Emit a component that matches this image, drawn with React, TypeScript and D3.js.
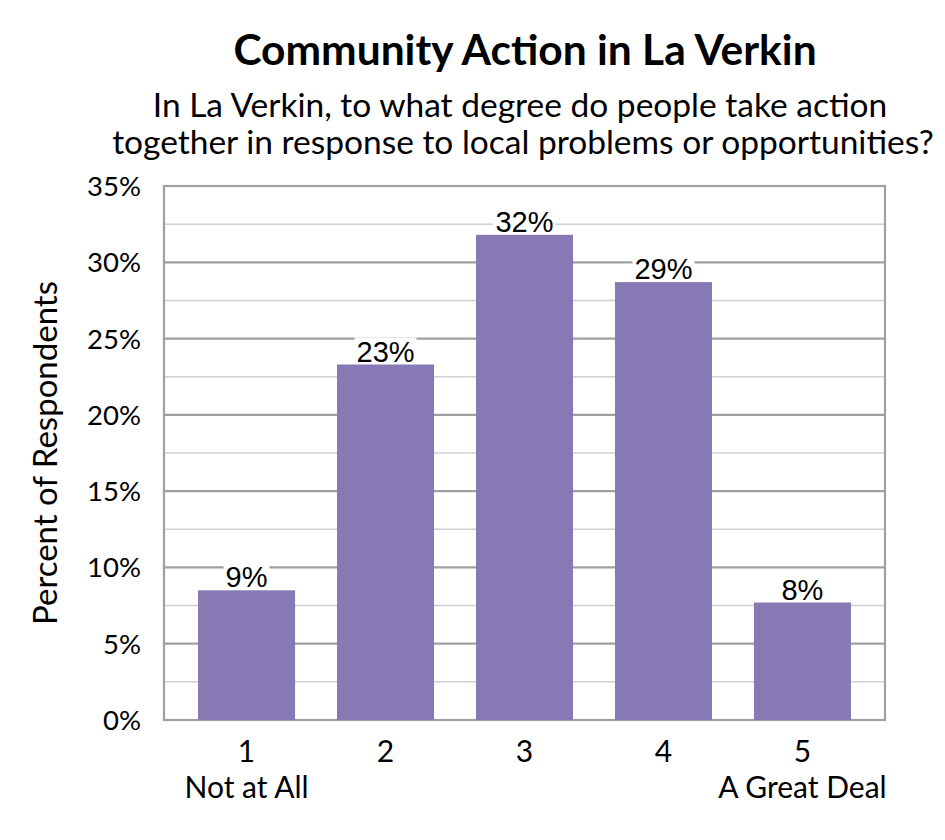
import { FC } from 'react'
import * as d3 from 'd3'

const categories = ['1', '2', '3', '4', '5']
const subLabels = ['Not at All', '', '', '', 'A Great Deal']
const values = [8.5, 23.3, 31.8, 28.7, 7.7]
const valueLabels = ['9%', '23%', '32%', '29%', '8%']
const majorTicks = [0, 5, 10, 15, 20, 25, 30, 35]
const minorTicks = [2.5, 7.5, 12.5, 17.5, 22.5, 27.5, 32.5]

const width = 945
const height = 840
const margin = { top: 186, right: 60, bottom: 120, left: 164 }
const labelFont = 'Lato, "Open Sans", sans-serif'
const valueFont = '"Liberation Sans", Arial, sans-serif'
const valueSize = 29

// rough Arial advance widths, enough for the white box behind the labels
const textWidth = (s: string) =>
  s.split('').reduce((w, ch) => w + (ch === '%' ? 0.889 : 0.556), 0) * valueSize

const App: FC = () => {
  const x = d3.scaleBand()
    .domain(categories)
    .range([margin.left, width - margin.right])
    .paddingInner(0.302)
    .paddingOuter(0.245)

  const y = d3.scaleLinear()
    .domain([0, 35])
    .range([height - margin.bottom, margin.top])

  const left = margin.left
  const right = width - margin.right

  return (
    <svg width={width} height={height} style={{ position: 'absolute', left: 0, top: 0 }}>
      <rect width={width} height={height} fill="#fff" />
      <text x={525} y={65} textAnchor="middle" fontFamily={labelFont} fontWeight="bold" fontSize={42.5}>
        Community Action in La Verkin
      </text>
      <text x={520} y={117} textAnchor="middle" fontFamily={labelFont} fontSize={33.5}>
        In La Verkin, to what degree do people take action
      </text>
      <text x={523} y={154} textAnchor="middle" fontFamily={labelFont} fontSize={33.5}>
        together in response to local problems or opportunities?
      </text>

      {minorTicks.map(t => (
        <line key={'m' + t} x1={left} x2={right} y1={y(t)} y2={y(t)} stroke="#d0d0d0" strokeWidth={1.5} />
      ))}
      {majorTicks.map(t => (
        <line key={'g' + t} x1={left} x2={right} y1={y(t)} y2={y(t)} stroke="#a0a0a0" strokeWidth={2.2} />
      ))}
      <rect x={left} y={y(35)} width={right - left} height={y(0) - y(35)} fill="none" stroke="#a0a0a0" strokeWidth={2.2} />

      {majorTicks.map(t => (
        <text key={'t' + t} x={left - 23} y={y(t) + 10} textAnchor="end" fontFamily={labelFont} fontSize={27.5}>
          {t}%
        </text>
      ))}

      <text
        transform={`translate(57,${(y(0) + y(35)) / 2}) rotate(-90)`}
        textAnchor="middle"
        fontFamily={labelFont}
        fontSize={33}
      >
        Percent of Respondents
      </text>

      {categories.map((c, i) => {
        const cx = (x(c) || 0) + x.bandwidth() / 2
        const top = y(values[i])
        const tw = textWidth(valueLabels[i])
        return (
          <g key={c}>
            <rect x={x(c)} y={top} width={x.bandwidth()} height={y(0) - top} fill="#8679B4" />
            <rect x={cx - tw / 2 - 2} y={top - 27} width={tw + 4} height={26} fill="#fff" />
            <text x={cx} y={top - 3} textAnchor="middle" fontFamily={valueFont} fontSize={valueSize}>
              {valueLabels[i]}
            </text>
            <text x={cx} y={762} textAnchor="middle" fontFamily={labelFont} fontSize={30}>
              {c}
            </text>
            <text x={cx} y={798} textAnchor="middle" fontFamily={labelFont} fontSize={30}>
              {subLabels[i]}
            </text>
          </g>
        )
      })}
    </svg>
  )
}

export default App
